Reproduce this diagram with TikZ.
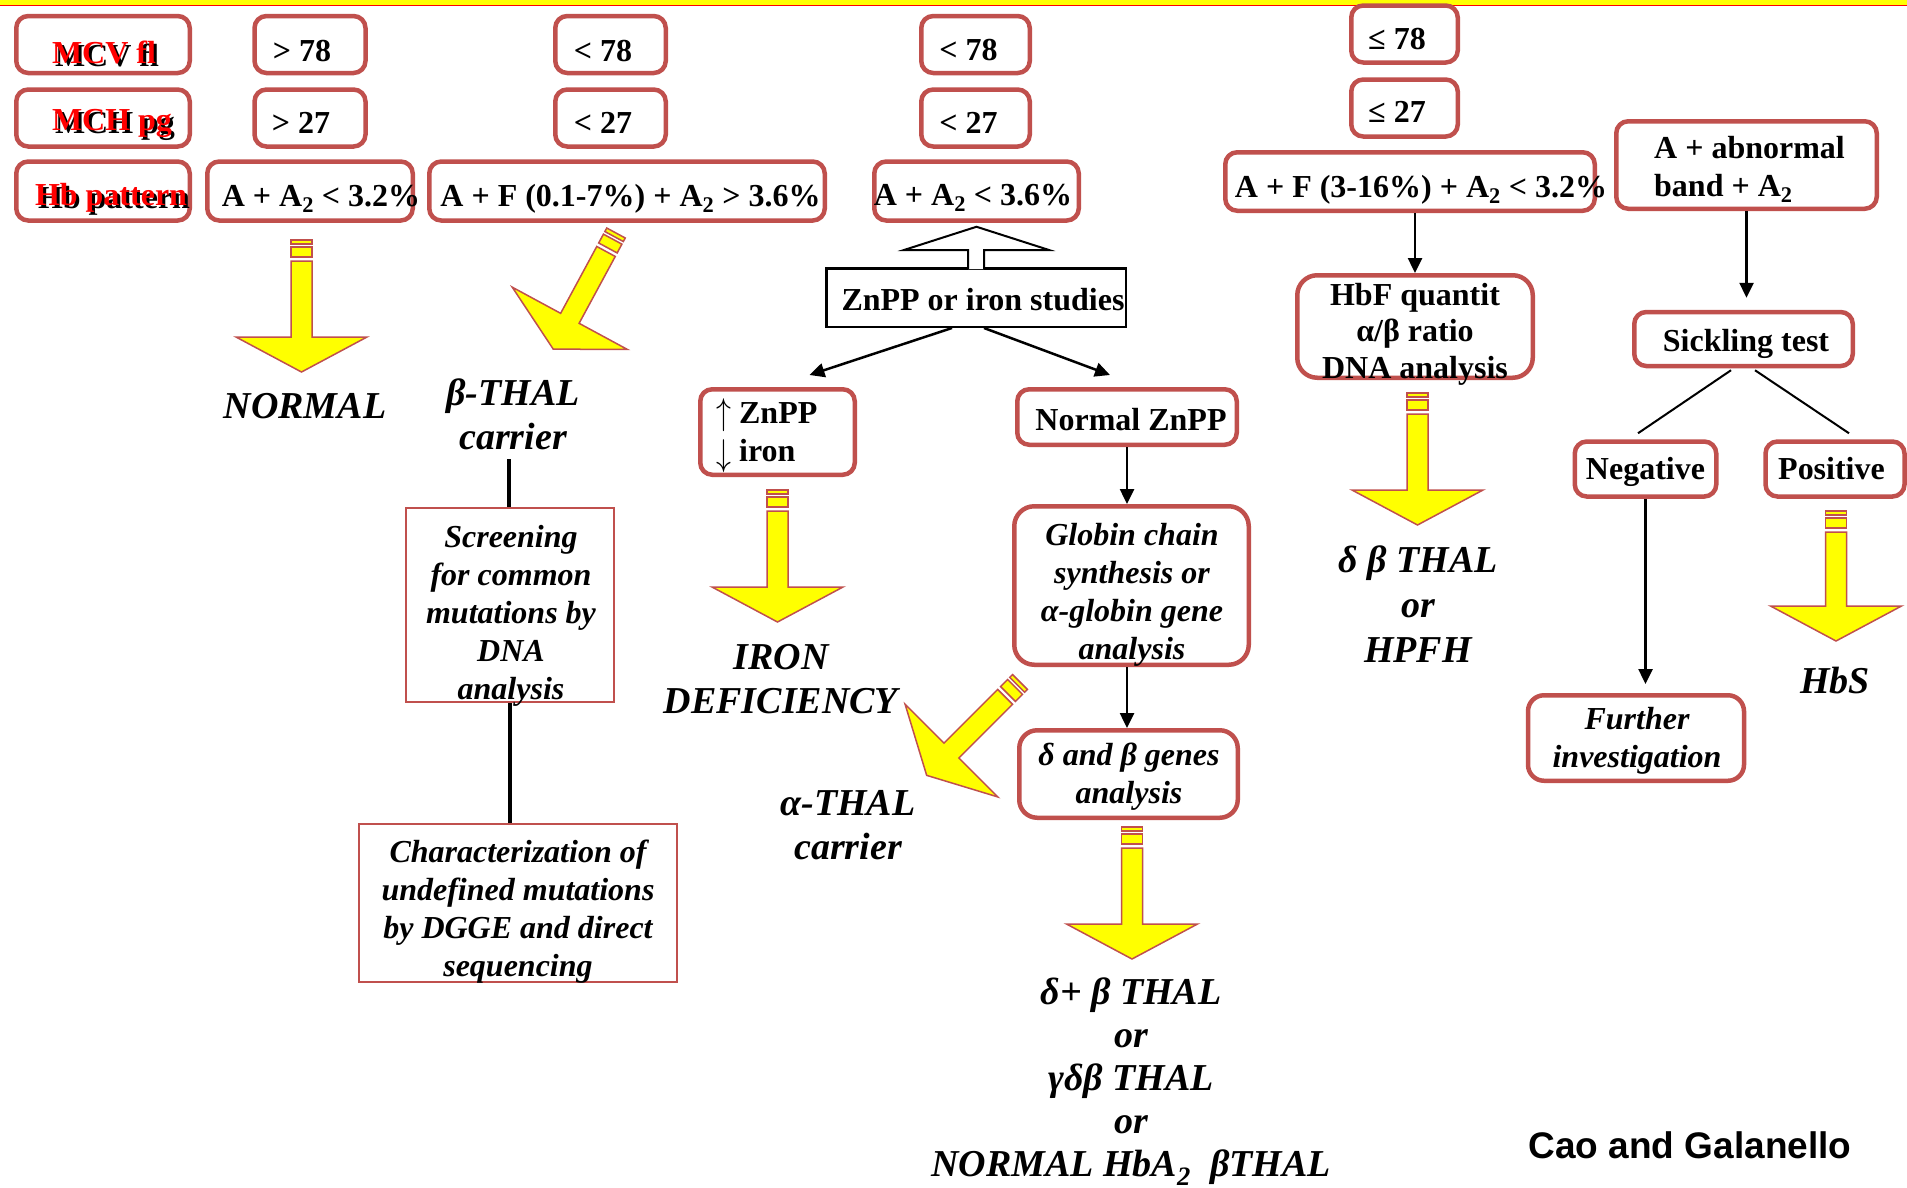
\documentclass[tikz,border=0pt]{standalone}
\usepackage{fontspec}
\setmainfont{Liberation Serif}
\newfontfamily\arialfont{Liberation Sans}
\usepackage{tikz}
\usetikzlibrary{arrows.meta,positioning}
\definecolor{boxred}{RGB}{192,80,77}
\definecolor{arrowyellow}{RGB}{255,255,0}
\newcommand{\boxfont}{\fontsize{32}{38}\selectfont\bfseries}
\newcommand{\resfont}{\fontsize{38}{44}\selectfont\bfseries\itshape}
\newcommand{\uparr}{\raisebox{-1pt}{\scalebox{1.2}[1.5]{$\uparrow$}}}
\newcommand{\downarr}{\raisebox{-4pt}{\scalebox{1.2}[1.5]{$\downarrow$}}}
\tikzstyle{redbox} = [draw=boxred, line width=4.5pt, rounded corners=12pt, inner sep=0pt]
\tikzstyle{thinbox} = [draw=boxred, line width=2pt, inner sep=0pt]
\tikzstyle{blackbox} = [draw=black, line width=2.5pt, inner sep=0pt]
\tikzstyle{boxtext} = [font=\boxfont, inner sep=0pt, anchor=base]
\tikzstyle{itext} = [font=\boxfont\itshape, inner sep=0pt, align=center]
\tikzstyle{result} = [font=\resfont, inner sep=0pt, align=center]
\tikzstyle{redlabel} = [font=\boxfont, text=red, inner sep=0pt, anchor=base]
\tikzstyle{labelshadow} = [font=\boxfont, text=black, inner sep=0pt, anchor=base]
\tikzstyle{connect} = [line width=2.5pt, -{Triangle[length=15pt,width=14pt]}]
\tikzstyle{yarrow} = [fill=arrowyellow, draw=boxred, line width=1.5pt]
% block arrow: tail x, tail y, rotation, length
\newcommand{\yellowarrow}[4]{%
  \begin{scope}[shift={(#1,#2)}, rotate=#3]
    \filldraw[yarrow] (-10.5,0) rectangle (10.5,4);
    \filldraw[yarrow] (-10.5,7) rectangle (10.5,17);
    \filldraw[yarrow] (-10.5,21) -- (10.5,21) -- (10.5,#4-35) -- (65.5,#4-35)
      -- (0,#4) -- (-65.5,#4-35) -- (-10.5,#4-35) -- cycle;
  \end{scope}}

\begin{document}
\begin{tikzpicture}[x=1pt, y=-1pt]
    \path[fill=white] (0,0) rectangle (1907,1187);
    \useasboundingbox (0,0) rectangle (1907,1187);
    \fill[arrowyellow] (0,0) rectangle (1907,5);
    \draw[red, line width=1.5pt] (0,5.5) -- (1907,5.5);

    % yellow arrows
    \yellowarrow{301.5}{240}{0}{132}
    \yellowarrow{616}{233}{-28.4}{132}
    \yellowarrow{777.5}{490}{0}{132}
    \yellowarrow{1020}{682}{-45}{132}
    \yellowarrow{1132}{827}{0}{132}
    \yellowarrow{1417.5}{393}{0}{132}
    \yellowarrow{1836}{511}{0}{130}

    % criteria boxes
    \node[redbox, minimum width=173.5, minimum height=57] (mcv) at (103,44.5) {};
    \node[redbox, minimum width=173.5, minimum height=57] (mch) at (103,118) {};
    \node[redbox, minimum width=173.5, minimum height=59] (hbp) at (103,191) {};
    \node[redbox, minimum width=111, minimum height=57] (gt78) at (310,44.5) {};
    \node[redbox, minimum width=111, minimum height=57] (gt27) at (310,118) {};
    \node[redbox, minimum width=205.5, minimum height=59] (aa32) at (310,191) {};
    \node[redbox, minimum width=110.5, minimum height=57] (lt78a) at (610.5,44.5) {};
    \node[redbox, minimum width=110.5, minimum height=57] (lt27a) at (610.5,118) {};
    \node[redbox, minimum width=395.5, minimum height=59] (af07) at (627,191) {};
    \node[redbox, minimum width=108.5, minimum height=57] (lt78b) at (975.5,44.5) {};
    \node[redbox, minimum width=108.5, minimum height=57] (lt27b) at (975.5,118) {};
    \node[redbox, minimum width=204.5, minimum height=59] (aa36) at (976.5,191) {};
    \node[redbox, minimum width=106.5, minimum height=57] (le78) at (1404.5,34) {};
    \node[redbox, minimum width=106.5, minimum height=57] (le27) at (1404.5,108) {};
    \node[redbox, minimum width=369.5, minimum height=58.5] (af316) at (1410,181.5) {};
    \node[redbox, minimum width=260.5, minimum height=87.5] (abn) at (1746.5,165) {};

    \node[labelshadow] (mcvS) at (107,66) {MCV fl};
    \node[redlabel] (mcvL) at (104,63) {MCV fl};
    \node[labelshadow] (mchS) at (115,133) {MCH pg};
    \node[redlabel] (mchL) at (112,130) {MCH pg};
    \node[labelshadow] (hbpS) at (114,208) {Hb pattern};
    \node[redlabel] (hbpL) at (111,205) {Hb pattern};

    \node[boxtext] (gt78T) at (302,61) {> 78};
    \node[boxtext] (gt27T) at (301,133) {> 27};
    \node[boxtext] (aa32T) at (321,206) {A + A\textsubscript{2} < 3.2\%};
    \node[boxtext] (lt78aT) at (603,61) {< 78};
    \node[boxtext] (lt27aT) at (603,133) {< 27};
    \node[boxtext] (af07T) at (630.5,206) {A + F (0.1-7\%) + A\textsubscript{2} > 3.6\%};
    \node[boxtext] (lt78bT) at (968.5,60) {< 78};
    \node[boxtext] (lt27bT) at (968.5,133) {< 27};
    \node[boxtext] (aa36T) at (973,205) {A + A\textsubscript{2} < 3.6\%};
    \node[boxtext] (le78T) at (1397,49) {≤ 78};
    \node[boxtext] (le27T) at (1397,122) {≤ 27};
    \node[boxtext] (af316T) at (1421,197) {A + F (3-16\%) + A\textsubscript{2} < 3.2\%};
    \node[boxtext, anchor=center, align=left] (abnT) at (1749.5,169.5) {A + abnormal\\band + A\textsubscript{2}};

    % iron branch
    \node[blackbox, minimum width=299.5, minimum height=58.5] (znpp) at (976,297.5) {};
    \node[boxtext] (znppT) at (983,310) {ZnPP or iron studies};
    \filldraw[fill=white, draw=black, line width=2pt]
        ([xshift=-8pt,yshift=-2pt]znpp.north) -- ([xshift=-8pt,yshift=17pt]znpp.north)
        -- ([xshift=-72pt,yshift=17pt]znpp.north) -- ([yshift=-4pt]aa36.south)
        -- ([xshift=73pt,yshift=17pt]znpp.north) -- ([xshift=8pt,yshift=17pt]znpp.north)
        -- ([xshift=8pt,yshift=-2pt]znpp.north);
    \node[redbox, minimum width=154.5, minimum height=85.5] (updown) at (777.5,432) {};
    \node[boxtext, anchor=west, align=left] (updownT) at (716,436) {\uparr\ ZnPP\\\downarr\ iron};
    \node[redbox, minimum width=219.5, minimum height=55.5] (normal) at (1127,417) {};
    \node[boxtext] (normalT) at (1131,430) {Normal ZnPP};
    \node[redbox, rounded corners=20pt, minimum width=234.5, minimum height=158.5] (globin) at (1131.5,585.5) {};
    \node[itext] (globinT) at (1132,595) {Globin chain\\synthesis or\\α-globin gene\\analysis};
    \node[redbox, rounded corners=18pt, minimum width=218.5, minimum height=87.5] (dbox) at (1128.5,774) {};
    \node[itext] (dboxT) at (1129,776.5) {δ and β genes\\analysis};
    \draw[connect] ([xshift=-24pt]znpp.south) -- ([xshift=32pt,yshift=12pt]updown.north);
    \draw[connect] ([xshift=8pt]znpp.south) -- ([xshift=-17pt,yshift=12pt]normal.north);
    \draw[connect] (normal.south) -- (normal.south |- globin.north);
    \draw[connect] (globin.south -| normal.south) -- (dbox.north -| normal.south);

    % HbF branch
    \node[redbox, rounded corners=20pt, minimum width=235.5, minimum height=102.5] (hbf) at (1415,326.5) {};
    \node[boxtext, anchor=center, align=center, font=\fontsize{32}{36.5}\selectfont\bfseries] (hbfT) at (1415,334) {HbF quantit\\α/β ratio\\DNA analysis};
    \draw[connect] (af316.south -| hbf.north) -- (hbf.north);

    % abnormal band branch
    \node[redbox, minimum width=218.5, minimum height=54] (sick) at (1743.5,339) {};
    \node[boxtext] (sickT) at (1746,351) {Sickling test};
    \node[redbox, minimum width=141.5, minimum height=55] (neg) at (1645.5,469) {};
    \node[boxtext] (negT) at (1645.5,479) {Negative};
    \node[redbox, minimum width=139, minimum height=55] (pos) at (1835,469) {};
    \node[boxtext] (posT) at (1831.5,479) {Positive};
    \node[redbox, rounded corners=16pt, minimum width=216, minimum height=85.5] (further) at (1636,738) {};
    \node[itext] (furtherT) at (1637,741) {Further\\investigation};
    \draw[connect, shorten >=12pt] (abn.south) -- (abn.south |- sick.north);
    \draw[line width=2pt] ([xshift=-12.5pt,yshift=-2pt]sick.south) -- ([xshift=-7.5pt,yshift=6pt]neg.north);
    \draw[line width=2pt] ([xshift=11.5pt,yshift=-2pt]sick.south) -- ([xshift=14pt,yshift=6pt]pos.north);
    \draw[connect, shorten >=9pt] (neg.south) -- (neg.south |- further.north);

    % beta thal carrier branch
    \node[thinbox, minimum width=208, minimum height=194] (screen) at (510,605) {};
    \node[itext] (screenT) at (511,615.5) {Screening\\for common\\mutations by\\DNA\\analysis};
    \node[thinbox, minimum width=318, minimum height=158] (charac) at (518,903) {};
    \node[itext] (characT) at (518,912) {Characterization of\\undefined mutations\\by DGGE and direct\\sequencing};
    \coordinate (carrierfoot) at (509,459);
    \draw[line width=4pt] (carrierfoot) -- (carrierfoot |- screen.north);
    \draw[line width=4pt] (screen.south) -- (screen.south |- charac.north);

    % outcomes
    \node[result, anchor=base] (normalR) at (305,418) {NORMAL};
    \node[result] (betaR) at (513,414) {β-THAL\\carrier};
    \node[result] (ironR) at (781,679) {IRON\\DEFICIENCY};
    \node[result] (alphaR) at (848,825) {α-THAL\\carrier};
    \node[result, font=\fontsize{38}{45}\selectfont\bfseries\itshape] (dbR) at (1418,604) {δ β THAL\\or\\HPFH};
    \node[result, anchor=base] (hbsR) at (1835,693) {HbS};
    \node[result, font=\fontsize{38}{43}\selectfont\bfseries\itshape] (dpbR) at (1131,1082) {δ+ β THAL\\or\\γδβ THAL\\or\\NORMAL HbA\textsubscript{2}\ \ βTHAL};
    \node[anchor=base, inner sep=0pt, font=\arialfont\bfseries\fontsize{37}{44}\selectfont] (cao) at (1690,1158) {Cao and Galanello};
\end{tikzpicture}
\end{document}
